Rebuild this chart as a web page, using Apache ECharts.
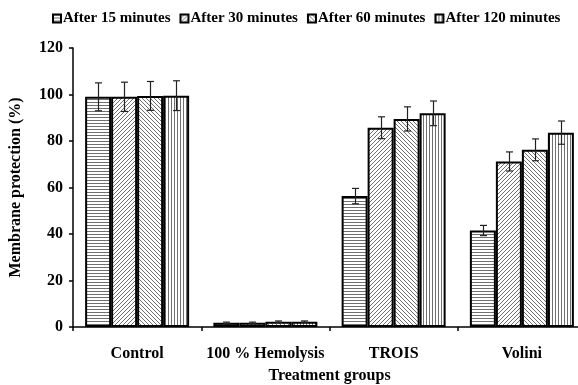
<!DOCTYPE html>
<html><head><meta charset="utf-8">
<script src="https://cdn.jsdelivr.net/npm/echarts@6/dist/echarts.min.js"></script>
<style>html,body{margin:0;padding:0;background:#fff}#c{width:578px;height:385px}</style>
</head><body><div id="c"></div>
<script>
var categories = ['Control', '100 % Hemolysis', 'TROIS', 'Volini'];
var seriesNames = ['After 15 minutes', 'After 30 minutes', 'After 60 minutes', 'After 120 minutes'];
var min15 = [99.0, 1.8, 56.3, 41.5];
var min30 = [99.0, 1.8, 85.7, 71.2];
var min60 = [99.4, 2.3, 89.5, 76.2];
var min120 = [99.5, 2.3, 91.9, 83.6];
var err15 = [6.0, 0.3, 3.3, 2.2];
var err30 = [6.3, 0.3, 4.7, 4.1];
var err60 = [6.2, 0.3, 5.2, 4.7];
var err120 = [6.4, 0.3, 5.3, 5.0];
var yTicks = [0, 20, 40, 60, 80, 100, 120];

var values = [min15, min30, min60, min120];
var errors = [err15, err30, err60, err120];

function makePattern(kind) {
  var s = kind === 'h' || kind === 'v' ? 3 : 4;
  var cv = document.createElement('canvas');
  cv.width = s; cv.height = s;
  var ctx = cv.getContext('2d');
  ctx.fillStyle = '#fff';
  ctx.fillRect(0, 0, s, s);
  ctx.fillStyle = '#707070';
  if (kind === 'h') {
    ctx.fillRect(0, 0, s, 1);
  } else if (kind === 'v') {
    ctx.fillRect(0, 0, 1, s);
  } else {
    for (var i = 0; i < s; i++) {
      var x = kind === 'f' ? (s - 1 - i) : i;
      ctx.fillRect(x, i, 1, 1);
    }
  }
  return { image: cv, repeat: 'repeat' };
}
var patterns = [makePattern('h'), makePattern('f'), makePattern('b'), makePattern('v')];

var barWidth = 26;
var font = 'Liberation Serif';

var series = [];
values.forEach(function (vals, si) {
  series.push({
    name: seriesNames[si],
    type: 'bar',
    data: vals,
    barWidth: barWidth,
    barGap: '0%',
    itemStyle: { color: patterns[si], borderColor: '#000', borderWidth: 2 },
    emphasis: { disabled: true }
  });
});
var errData = [];
values.forEach(function (vals, si) {
  vals.forEach(function (v, ci) {
    errData.push([ci, v - errors[si][ci], v + errors[si][ci], si]);
  });
});
series.push({
  type: 'custom',
  name: 'err',
  data: errData,
  z: 10,
  silent: true,
  renderItem: function (params, api) {
    var ci = api.value(0), lo = api.value(1), hi = api.value(2), si = api.value(3);
    var off = (si - 1.5) * barWidth;
    var p1 = api.coord([ci, hi]);
    var p2 = api.coord([ci, lo]);
    var x = Math.round(p1[0] + off) + 0.5;
    var cap = 3.5;
    var st = { stroke: '#222', lineWidth: 1.2 };
    return {
      type: 'group',
      children: [
        { type: 'line', shape: { x1: x, y1: p1[1], x2: x, y2: p2[1] }, style: st },
        { type: 'line', shape: { x1: x - cap, y1: p1[1], x2: x + cap, y2: p1[1] }, style: st },
        { type: 'line', shape: { x1: x - cap, y1: p2[1], x2: x + cap, y2: p2[1] }, style: st }
      ]
    };
  }
});

var chart = echarts.init(document.getElementById('c'), null, { renderer: 'canvas' });
chart.setOption({
  animation: false,
  backgroundColor: '#fff',
  legend: {
    data: seriesNames,
    top: 6,
    left: 47,
    itemWidth: 8,
    itemHeight: 8,
    itemGap: 9,
    icon: 'rect',
    textStyle: { fontFamily: font, fontWeight: 'bold', fontSize: 15, color: '#000', padding: [0, 0, 0, -3] }
  },
  grid: { left: 73, right: -8, top: 48, bottom: 58, containLabel: false, outerBoundsMode: 'none' },
  xAxis: {
    type: 'category',
    data: categories,
    name: 'Treatment groups',
    nameLocation: 'middle',
    nameGap: 41,
    nameTextStyle: { fontFamily: font, fontWeight: 'bold', fontSize: 16, color: '#000' },
    axisLine: { lineStyle: { color: '#000', width: 1.5 } },
    axisTick: { show: true, length: 4, lineStyle: { color: '#000', width: 1.5 } },
    axisLabel: { interval: 0, fontFamily: font, fontWeight: 'bold', fontSize: 16, color: '#000', margin: 19 }
  },
  yAxis: {
    type: 'value',
    min: 0, max: 120, interval: 20,
    name: 'Membrane protection (%)',
    nameLocation: 'middle',
    nameGap: 49,
    nameTextStyle: { fontFamily: font, fontWeight: 'bold', fontSize: 16, color: '#000' },
    axisLine: { show: true, lineStyle: { color: '#000', width: 1.5 } },
    axisTick: { show: true, length: 4, lineStyle: { color: '#000', width: 1.5 } },
    splitLine: { show: false },
    axisLabel: {
      fontFamily: font, fontWeight: 'bold', fontSize: 16, color: '#000', margin: 10,
      formatter: function (v) { return yTicks.indexOf(v) >= 0 ? String(v) : ''; }
    }
  },
  series: series
});
</script>
</body></html>
